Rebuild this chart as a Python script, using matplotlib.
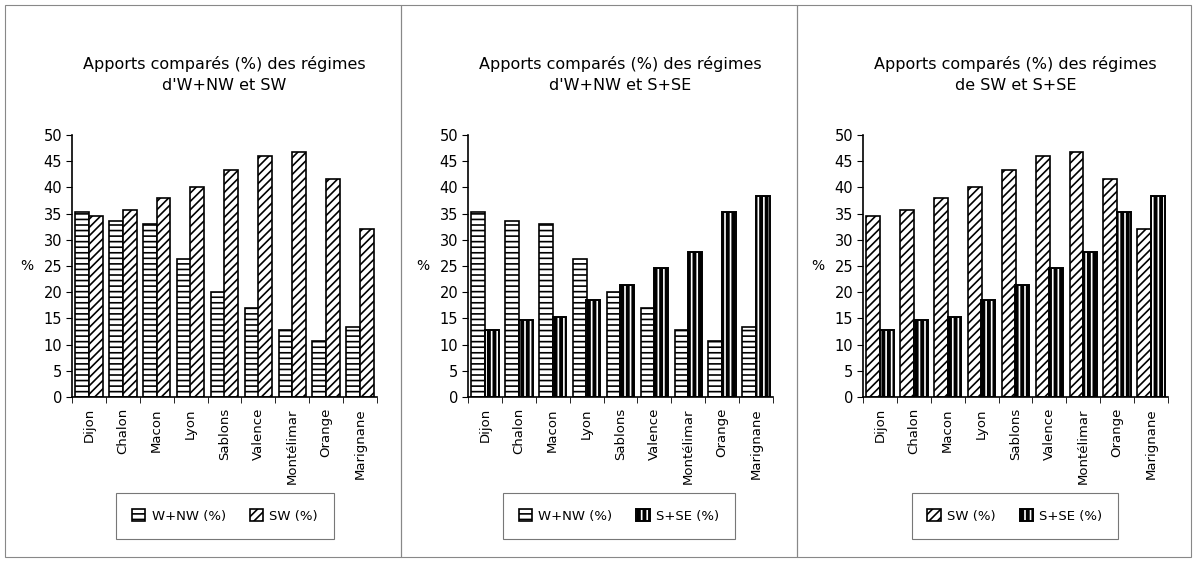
import matplotlib.pyplot as plt
import matplotlib.patches as mpatches
from matplotlib.legend_handler import HandlerTuple
import numpy as np

plt.rcParams['font.family'] = ['DejaVu Sans']
plt.rcParams['hatch.linewidth'] = 1.2

stations = ['Dijon', 'Chalon', 'Macon', 'Lyon', 'Sablons', 'Valence',
            'Montélimar', 'Orange', 'Marignane']
w_nw = [35.3, 33.5, 33.1, 26.4, 20.1, 17.0, 12.7, 10.6, 13.4]
sw = [34.5, 35.6, 38.0, 40.0, 43.4, 46.0, 46.8, 41.6, 32.1]
s_se = [12.8, 14.6, 15.2, 18.6, 21.3, 24.6, 27.6, 35.3, 38.3]

titles = ["Apports comparés (%) des régimes\nd'W+NW et SW",
          "Apports comparés (%) des régimes\nd'W+NW et S+SE",
          "Apports comparés (%) des régimes\nde SW et S+SE"]
pairs = [(('W+NW (%)', w_nw, 'wnw'), ('SW (%)', sw, 'sw')),
         (('W+NW (%)', w_nw, 'wnw'), ('S+SE (%)', s_se, 'sse')),
         (('SW (%)', sw, 'sw'), ('S+SE (%)', s_se, 'sse'))]

W, H = 1200, 567
fig = plt.figure(figsize=(12, 5.67), dpi=100)

# panel frames (pixels)
frames = [(5, 401), (401, 797), (797, 1191)]
for x0, x1 in frames:
    fig.patches.append(mpatches.Rectangle((x0 / W, 1 - 557 / H), (x1 - x0) / W, (557 - 5) / H,
                                          transform=fig.transFigure, fill=False,
                                          edgecolor='#888888', linewidth=0.8))

ax_left = [72, 468, 863]
ax_w = 305
legend_cx = [225, 619, 1015]


def draw_series(ax, x, vals, kind):
    if kind == 'wnw':
        b = ax.bar(x, vals, 0.41, facecolor='white', edgecolor='black', hatch='---', linewidth=1.2)
        return b.patches[0]
    if kind == 'sw':
        b = ax.bar(x, vals, 0.41, facecolor='white', edgecolor='black', hatch='////', linewidth=1.2)
        return b.patches[0]
    b1 = ax.bar(x, vals, 0.41, facecolor='black', edgecolor='white', hatch='|||', linewidth=0)
    b2 = ax.bar(x, vals, 0.41, fill=False, edgecolor='black', linewidth=1.4)
    return (b1.patches[0], b2.patches[0])


x = np.arange(len(stations))
for i in range(3):
    ax = fig.add_axes([ax_left[i] / W, 1 - 397 / H, ax_w / W, 262 / H])
    (lab1, v1, k1), (lab2, v2, k2) = pairs[i]
    h1 = draw_series(ax, x - 0.2, v1, k1)
    h2 = draw_series(ax, x + 0.2, v2, k2)

    ax.set_xlim(-0.5, len(stations) - 0.5)
    ax.set_ylim(0, 50)
    ax.set_yticks(range(0, 51, 5))
    ax.set_xticks(x)
    ax.set_xticklabels(stations, rotation=90, fontsize=9.5)
    ax.set_xticks(np.arange(-0.5, len(stations), 1), minor=True)
    ax.tick_params(axis='x', which='major', length=0, pad=8)
    ax.tick_params(axis='x', which='minor', length=4, direction='out')
    ax.tick_params(axis='y', length=4, labelsize=10.5, pad=3)
    for s in ['top', 'right']:
        ax.spines[s].set_visible(False)
    ax.spines['left'].set_linewidth(1.2)
    ax.spines['bottom'].set_linewidth(1.2)
    ax.set_ylabel('%', rotation=0, fontsize=10, labelpad=12, va='center')

    fig.text((ax_left[i] + ax_w / 2) / W, 1 - 74 / H, titles[i], ha='center', va='center',
             fontsize=11.5, linespacing=1.5)

    ax.legend([h1, h2], [lab1, lab2], loc='center',
              bbox_to_anchor=(legend_cx[i] / W, 1 - 516 / H), bbox_transform=fig.transFigure,
              ncol=2, fontsize=9.5, frameon=True, fancybox=False, edgecolor='#555555',
              handlelength=1.0, handleheight=1.0, borderpad=1.2, columnspacing=1.8,
              handletextpad=0.5, borderaxespad=0,
              handler_map={tuple: HandlerTuple(ndivide=1, pad=0)})
    ax.get_legend().get_frame().set_linewidth(0.8)

fig.savefig('out.png', dpi=100, facecolor='white')
